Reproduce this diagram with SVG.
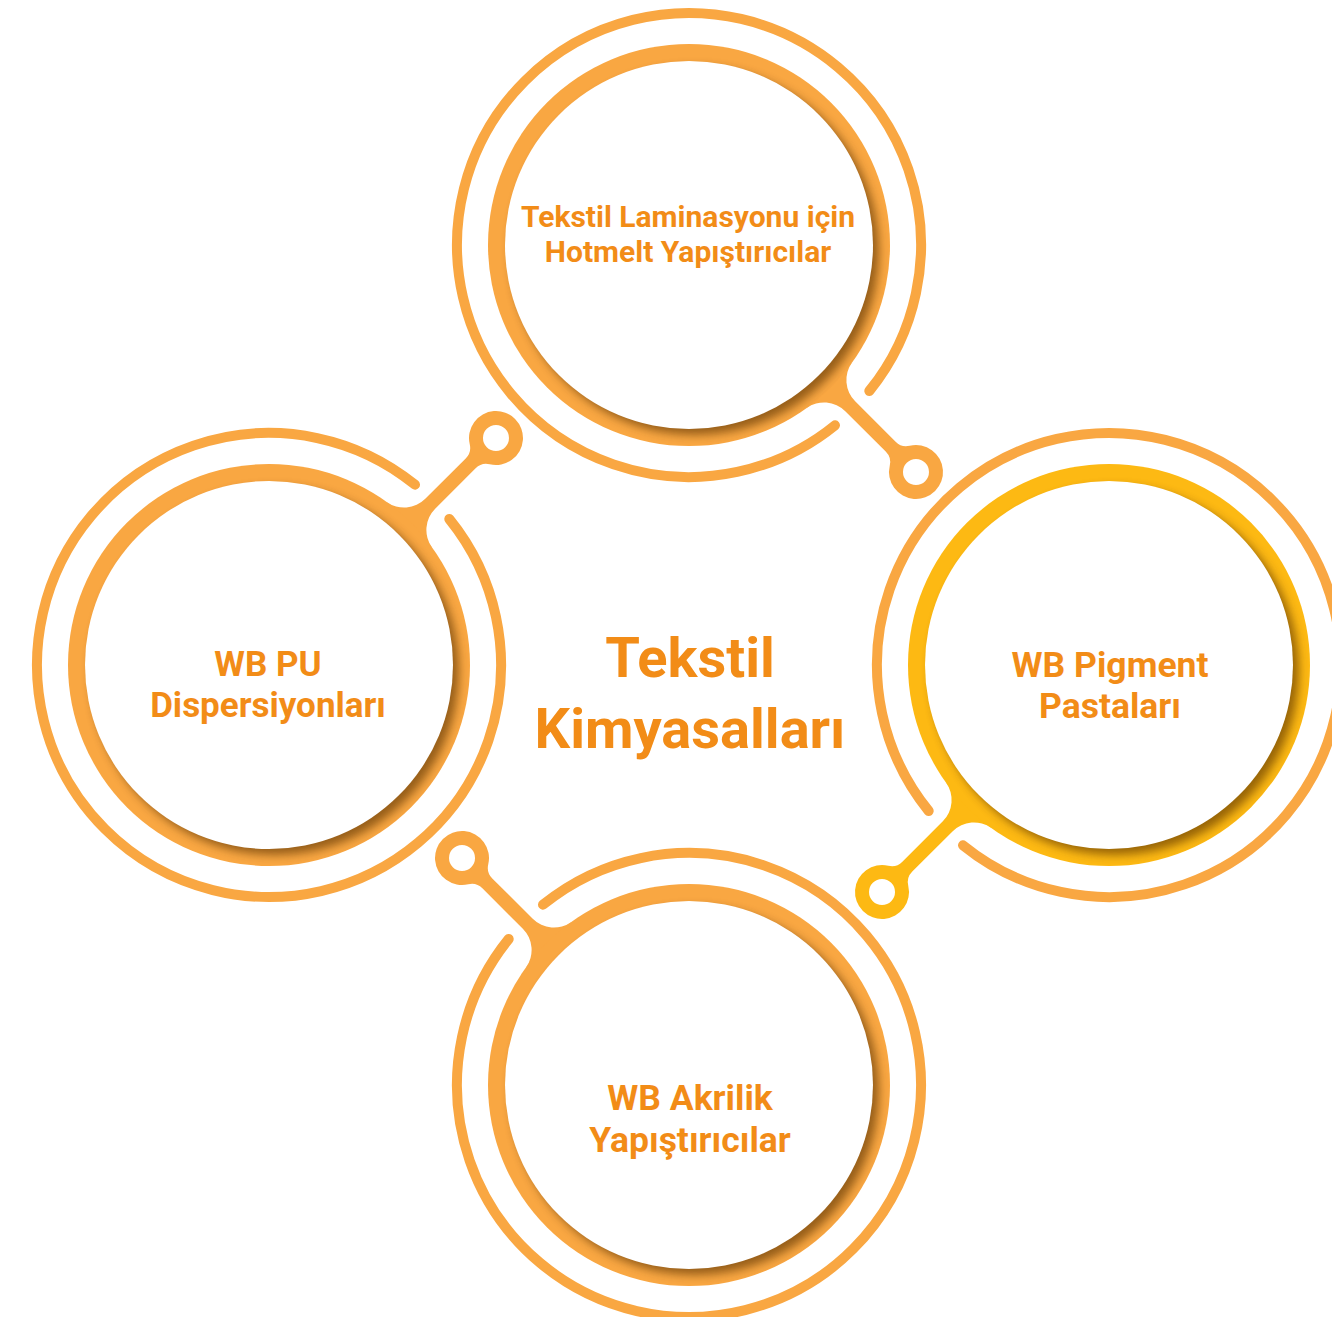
<svg xmlns="http://www.w3.org/2000/svg" xmlns:xlink="http://www.w3.org/1999/xlink" width="1332" height="1317" viewBox="0 0 1332 1317">
<style>
  .outer { fill: none; stroke: #F9A742; stroke-width: 10; stroke-linecap: round; }
  .ring { fill: #F9A742; }
  .ring-y { fill: #FDB913; }
  .conn { fill: #F9A742; fill-rule: evenodd; }
  .conn-y { fill: #FDB913; fill-rule: evenodd; }
  .disk { fill: #FFFFFF; }
  .shadow { fill: #5a3300; opacity: 0.62; }
  .lbl { font-family: Roboto, "Liberation Sans", sans-serif; font-weight: 700; fill: #F28C17; text-anchor: middle; }
</style>
<defs>
  <filter id="blur" x="-20%" y="-20%" width="140%" height="140%">
    <feGaussianBlur stdDeviation="5"/>
  </filter>
  <clipPath id="rc"><circle cx="0" cy="0" r="201"/></clipPath>
  <path id="stem" d="M 198.4,-32.1 A 30 30 0 0 0 228,-7 L 285.2,-7 A 15 15 0 0 0 298,-14.1 A 27 27 0 1 1 298,14.1 A 15 15 0 0 0 285.2,7 L 228,7 A 30 30 0 0 0 198.4,32.1 Z M 334,0 A 13 13 0 1 0 308,0 A 13 13 0 1 0 334,0 Z"/>
  <path id="arc" d="M 230.73,24.25 A 232 232 0 1 1 230.73,-24.25"/>
</defs>
<rect width="1332" height="1317" fill="#FFFFFF"/>

<g id="connectors">
  <use xlink:href="#stem" class="conn" transform="translate(689,245) rotate(45)"/>
  <use xlink:href="#stem" class="conn-y" transform="translate(1109,665) rotate(135)"/>
  <use xlink:href="#stem" class="conn" transform="translate(689,1085) rotate(225)"/>
  <use xlink:href="#stem" class="conn" transform="translate(269,665) rotate(315)"/>
</g>

<g id="node-top">
  <g transform="translate(689,245)">
    <use xlink:href="#arc" class="outer" transform="rotate(45)"/>
    <circle r="201" class="ring"/>
    <circle cx="6" cy="6" r="184" class="shadow" filter="url(#blur)" clip-path="url(#rc)"/>
    <circle r="184" class="disk"/>
  </g>
  <text class="lbl" x="688" y="227" font-size="30">Tekstil Laminasyonu için</text>
  <text class="lbl" x="688" y="262" font-size="30">Hotmelt Yapıştırıcılar</text>
</g>

<g id="node-right">
  <g transform="translate(1109,665)">
    <use xlink:href="#arc" class="outer" transform="rotate(135)"/>
    <circle r="201" class="ring-y"/>
    <circle cx="6" cy="6" r="184" class="shadow" filter="url(#blur)" clip-path="url(#rc)"/>
    <circle r="184" class="disk"/>
  </g>
  <text class="lbl" x="1110" y="677" font-size="35.5">WB Pigment</text>
  <text class="lbl" x="1110" y="718" font-size="35.5">Pastaları</text>
</g>

<g id="node-bottom">
  <g transform="translate(689,1085)">
    <use xlink:href="#arc" class="outer" transform="rotate(225)"/>
    <circle r="201" class="ring"/>
    <circle cx="6" cy="6" r="184" class="shadow" filter="url(#blur)" clip-path="url(#rc)"/>
    <circle r="184" class="disk"/>
  </g>
  <text class="lbl" x="690" y="1110" font-size="35.5">WB Akrilik</text>
  <text class="lbl" x="690" y="1152" font-size="35.5">Yapıştırıcılar</text>
</g>

<g id="node-left">
  <g transform="translate(269,665)">
    <use xlink:href="#arc" class="outer" transform="rotate(315)"/>
    <circle r="201" class="ring"/>
    <circle cx="6" cy="6" r="184" class="shadow" filter="url(#blur)" clip-path="url(#rc)"/>
    <circle r="184" class="disk"/>
  </g>
  <text class="lbl" x="268" y="676" font-size="35">WB PU</text>
  <text class="lbl" x="268" y="717" font-size="35">Dispersiyonları</text>
</g>

<g id="center">
  <text class="lbl" x="690" y="677" font-size="56">Tekstil</text>
  <text class="lbl" x="690" y="748" font-size="56">Kimyasalları</text>
</g>
</svg>
